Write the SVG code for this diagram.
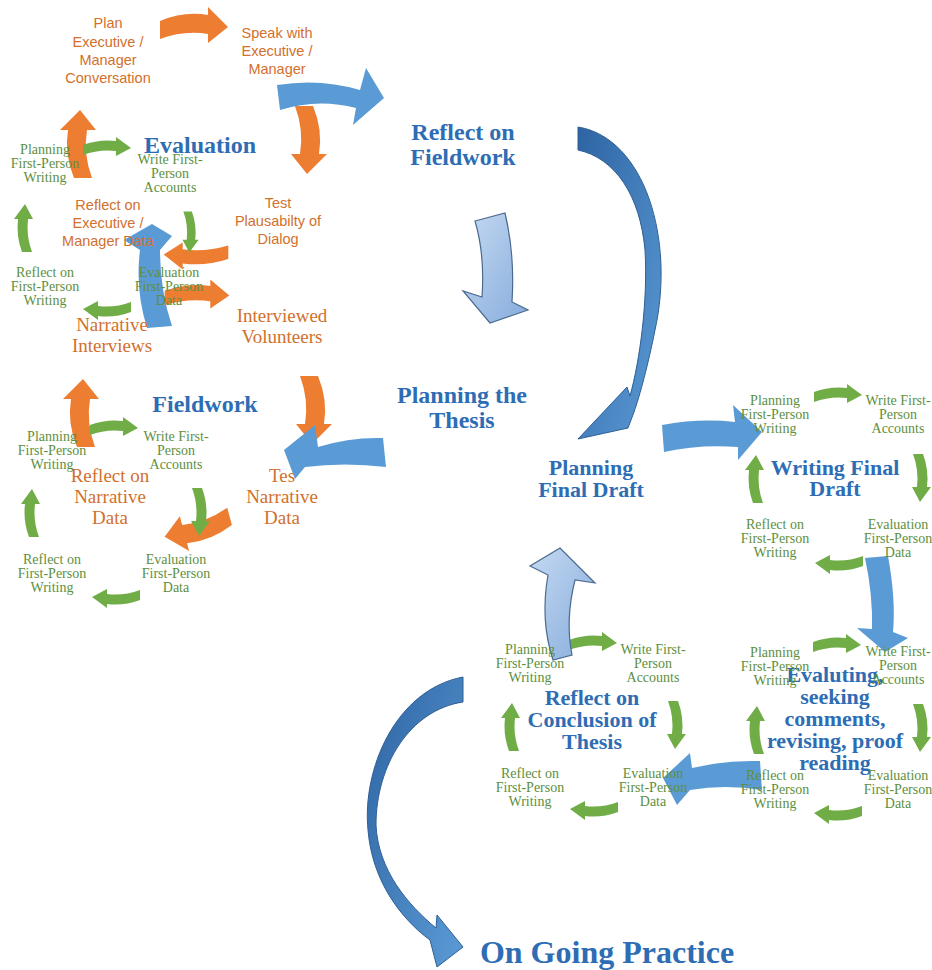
<svg xmlns="http://www.w3.org/2000/svg" width="932" height="970" viewBox="0 0 932 970">
<style>
.os{font-family:"Liberation Sans",Arial,sans-serif;font-size:14.5px;fill:#D2702D;text-anchor:middle}
.or{font-family:"Liberation Serif","Times New Roman",serif;font-size:19px;fill:#D2702D;text-anchor:middle}
.g{font-family:"Liberation Serif","Times New Roman",serif;font-size:14px;fill:#5E8F3E;text-anchor:middle}
.b{font-family:"Liberation Serif","Times New Roman",serif;font-weight:bold;font-size:22px;fill:#2E6DB4;text-anchor:middle}
.bl{font-size:24px}
.ga{fill:#70AD47}
.oa{fill:#ED7D31}
.ba{fill:#5B9BD5}
.lb{fill:url(#lg);stroke:#4A6A90;stroke-width:1.2}
.db{fill:url(#dg);stroke:#2F5F95;stroke-width:1}
</style>
<defs>
<linearGradient id="lg" x1="0" y1="0" x2="1" y2="1">
<stop offset="0" stop-color="#C5D9F1"/><stop offset="1" stop-color="#86ACDC"/>
</linearGradient>
<linearGradient id="dg" x1="0" y1="0" x2="1" y2="1">
<stop offset="0" stop-color="#2E64A3"/><stop offset="1" stop-color="#5B9BD5"/>
</linearGradient>
<path id="gA" d="M -24,-1 Q -8,-7 9,-5 L 9,-9 L 24,2 L 9,10 L 9,5 Q -8,3 -24,9 Z"/>
<path id="oA" d="M -34,-4 Q -10,-14 14,-10 L 14,-18 L 34,2 L 14,18 L 14,9 Q -10,5 -34,14 Z"/>
</defs>
<rect width="932" height="970" fill="#FFFFFF"/>

<g id="connectors">
<!-- orange arrows -->
<use href="#oA" class="oa" transform="translate(194,25)"/>
<use href="#oA" class="oa" transform="translate(309,140) rotate(90)"/>
<use href="#oA" class="oa" transform="translate(78,144) rotate(-90)"/>
<use href="#oA" class="oa" transform="translate(81,413) rotate(-90)"/>
<use href="#oA" class="oa" transform="translate(314,410) rotate(90)"/>
<use href="#oA" class="oa" transform="translate(198,530) rotate(165)"/>
<!-- evaluation centre blue -->
<path class="ba" d="M 147,328 Q 135,290 140,250 L 124,240 L 152,224 L 172,236 L 160,250 Q 160,290 172,326 Z"/>
<use href="#oA" class="oa" transform="translate(196,256) rotate(180) scale(0.95,0.75)"/>
<use href="#oA" class="oa" transform="translate(197,294) scale(0.95,0.8)"/>
<!-- green cycle arrows -->
<use href="#gA" class="ga" transform="translate(107,146)"/>
<use href="#gA" class="ga" transform="translate(191,232) rotate(90) scale(0.85)"/>
<use href="#gA" class="ga" transform="translate(107,311) rotate(180)"/>
<use href="#gA" class="ga" transform="translate(23,228) rotate(-90)"/>

<use href="#gA" class="ga" transform="translate(114,426)"/>
<use href="#gA" class="ga" transform="translate(201,512) rotate(90)"/>
<use href="#gA" class="ga" transform="translate(116,599) rotate(180)"/>
<use href="#gA" class="ga" transform="translate(30,513) rotate(-90)"/>

<use href="#gA" class="ga" transform="translate(838,393)"/>
<use href="#gA" class="ga" transform="translate(922,478) rotate(90)"/>
<use href="#gA" class="ga" transform="translate(839,565) rotate(180)"/>
<use href="#gA" class="ga" transform="translate(754,479) rotate(-90)"/>

<use href="#gA" class="ga" transform="translate(837,643)"/>
<use href="#gA" class="ga" transform="translate(922,728) rotate(90)"/>
<use href="#gA" class="ga" transform="translate(838,815) rotate(180)"/>
<use href="#gA" class="ga" transform="translate(755,730) rotate(-90)"/>

<use href="#gA" class="ga" transform="translate(593,641)"/>
<use href="#gA" class="ga" transform="translate(677,725) rotate(90)"/>
<use href="#gA" class="ga" transform="translate(594,811) rotate(180)"/>
<use href="#gA" class="ga" transform="translate(510,727) rotate(-90)"/>

<!-- blue arrows -->
<path class="ba" d="M 277,85 Q 320,78 360,90 L 366,68 L 384,98 L 353,125 L 356,108 Q 318,98 280,110 Z"/>
<path class="ba" d="M 383,438 Q 350,437 318,447 L 315,425 L 284,450 L 295,479 L 305,467 Q 345,462 386,467 Z"/>
<path class="ba" d="M 662,425 Q 700,418 735,422 L 733,405 L 762,432 L 738,460 L 738,447 Q 700,444 664,452 Z"/>
<path class="ba" d="M 865,558 L 888,556 Q 896,600 893,632 L 908,638 L 885,652 L 857,628 L 872,629 Q 873,595 865,558 Z"/>
<path class="ba" d="M 760,761 Q 725,760 692,768 L 690,753 L 663,778 L 677,805 L 690,790 Q 725,784 762,790 Z"/>
<path class="lb" d="M 475,221 L 505,213 Q 515,255 512,302 L 528,310 L 490,323 L 463,291 L 482,297 Q 485,255 475,221 Z"/>
<path class="lb" d="M 553,660 Q 540,620 548,575 L 530,566 L 560,548 L 595,583 L 575,580 Q 565,620 572,655 Z"/>
<path class="db" d="M 578,127 C 645,138 675,240 655,330 C 648,365 640,395 634,412 L 628,428 L 578,439 L 627,387 L 630,396 C 640,360 648,300 645,250 C 640,195 615,158 578,150 Z"/>
<path class="db" d="M 463,677 C 395,690 362,770 368,830 C 372,880 400,918 430,940 L 437,967 L 463,947 L 437,915 L 436,928 C 408,905 378,870 376,825 C 376,765 410,710 463,702 Z"/>
</g>

<g id="plan-exec"><text class="os" x="108" y="28">Plan</text><text class="os" x="108" y="47">Executive /</text><text class="os" x="108" y="65">Manager</text><text class="os" x="108" y="83">Conversation</text></g>
<g id="speak-exec"><text class="os" x="277" y="38">Speak with</text><text class="os" x="277" y="56">Executive /</text><text class="os" x="277" y="74">Manager</text></g>
<g id="test-dialog"><text class="os" x="278" y="208">Test</text><text class="os" x="278" y="226">Plausabilty of</text><text class="os" x="278" y="244">Dialog</text></g>
<g id="reflect-exec"><text class="os" x="108" y="210">Reflect on</text><text class="os" x="108" y="228">Executive /</text><text class="os" x="108" y="246">Manager Data</text></g>
<g id="interviewed"><text class="or" x="282" y="322">Interviewed</text><text class="or" x="282" y="343">Volunteers</text></g>
<g id="narrative-int"><text class="or" x="112" y="331">Narrative</text><text class="or" x="112" y="352">Interviews</text></g>
<g id="reflect-narr"><text class="or" x="110" y="482">Reflect on</text><text class="or" x="110" y="503">Narrative</text><text class="or" x="110" y="524">Data</text></g>
<g id="test-narr"><text class="or" x="282" y="482">Tes</text><text class="or" x="282" y="503">Narrative</text><text class="or" x="282" y="524">Data</text></g>

<g id="evaluation"><text class="b bl" x="200" y="153">Evaluation</text></g>
<g id="e-plan"><text class="g" x="45" y="154">Planning</text><text class="g" x="45" y="168">First-Person</text><text class="g" x="45" y="182">Writing</text></g>
<g id="e-write"><text class="g" x="170" y="164">Write First-</text><text class="g" x="170" y="178">Person</text><text class="g" x="170" y="192">Accounts</text></g>
<g id="e-reflect"><text class="g" x="45" y="277">Reflect on</text><text class="g" x="45" y="291">First-Person</text><text class="g" x="45" y="305">Writing</text></g>
<g id="e-eval"><text class="g" x="169" y="277">Evaluation</text><text class="g" x="169" y="291">First-Person</text><text class="g" x="169" y="305">Data</text></g>

<g id="fieldwork"><text class="b bl" x="205" y="412">Fieldwork</text></g>
<g id="f-plan"><text class="g" x="52" y="441">Planning</text><text class="g" x="52" y="455">First-Person</text><text class="g" x="52" y="469">Writing</text></g>
<g id="f-write"><text class="g" x="176" y="441">Write First-</text><text class="g" x="176" y="455">Person</text><text class="g" x="176" y="469">Accounts</text></g>
<g id="f-reflect"><text class="g" x="52" y="564">Reflect on</text><text class="g" x="52" y="578">First-Person</text><text class="g" x="52" y="592">Writing</text></g>
<g id="f-eval"><text class="g" x="176" y="564">Evaluation</text><text class="g" x="176" y="578">First-Person</text><text class="g" x="176" y="592">Data</text></g>

<g id="reflect-fieldwork"><text class="b bl" x="463" y="140">Reflect on</text><text class="b bl" x="463" y="165">Fieldwork</text></g>
<g id="planning-thesis"><text class="b bl" x="462" y="403">Planning the</text><text class="b bl" x="462" y="428">Thesis</text></g>
<g id="planning-final"><text class="b" x="591" y="475">Planning</text><text class="b" x="591" y="497">Final Draft</text></g>

<g id="writing-final"><text class="b" x="835" y="475">Writing Final</text><text class="b" x="835" y="496">Draft</text></g>
<g id="w-plan"><text class="g" x="775" y="405">Planning</text><text class="g" x="775" y="419">First-Person</text><text class="g" x="775" y="433">Writing</text></g>
<g id="w-write"><text class="g" x="898" y="405">Write First-</text><text class="g" x="898" y="419">Person</text><text class="g" x="898" y="433">Accounts</text></g>
<g id="w-reflect"><text class="g" x="775" y="529">Reflect on</text><text class="g" x="775" y="543">First-Person</text><text class="g" x="775" y="557">Writing</text></g>
<g id="w-eval"><text class="g" x="898" y="529">Evaluation</text><text class="g" x="898" y="543">First-Person</text><text class="g" x="898" y="557">Data</text></g>

<g id="evaluting"><text class="b" x="835" y="682">Evaluting,</text><text class="b" x="835" y="704">seeking</text><text class="b" x="835" y="726">comments,</text><text class="b" x="835" y="748">revising, proof</text><text class="b" x="835" y="770">reading</text></g>
<g id="v-plan"><text class="g" x="775" y="657">Planning</text><text class="g" x="775" y="671">First-Person</text><text class="g" x="775" y="685">Writing</text></g>
<g id="v-write"><text class="g" x="898" y="656">Write First-</text><text class="g" x="898" y="670">Person</text><text class="g" x="898" y="684">Accounts</text></g>
<g id="v-reflect"><text class="g" x="775" y="780">Reflect on</text><text class="g" x="775" y="794">First-Person</text><text class="g" x="775" y="808">Writing</text></g>
<g id="v-eval"><text class="g" x="898" y="780">Evaluation</text><text class="g" x="898" y="794">First-Person</text><text class="g" x="898" y="808">Data</text></g>

<g id="reflect-conclusion"><text class="b" x="592" y="705">Reflect on</text><text class="b" x="592" y="727">Conclusion of</text><text class="b" x="592" y="749">Thesis</text></g>
<g id="c-plan"><text class="g" x="530" y="654">Planning</text><text class="g" x="530" y="668">First-Person</text><text class="g" x="530" y="682">Writing</text></g>
<g id="c-write"><text class="g" x="653" y="654">Write First-</text><text class="g" x="653" y="668">Person</text><text class="g" x="653" y="682">Accounts</text></g>
<g id="c-reflect"><text class="g" x="530" y="778">Reflect on</text><text class="g" x="530" y="792">First-Person</text><text class="g" x="530" y="806">Writing</text></g>
<g id="c-eval"><text class="g" x="653" y="778">Evaluation</text><text class="g" x="653" y="792">First-Person</text><text class="g" x="653" y="806">Data</text></g>

<g id="ongoing"><text class="b" style="font-size:32px" x="607" y="963">On Going Practice</text></g>
</svg>
